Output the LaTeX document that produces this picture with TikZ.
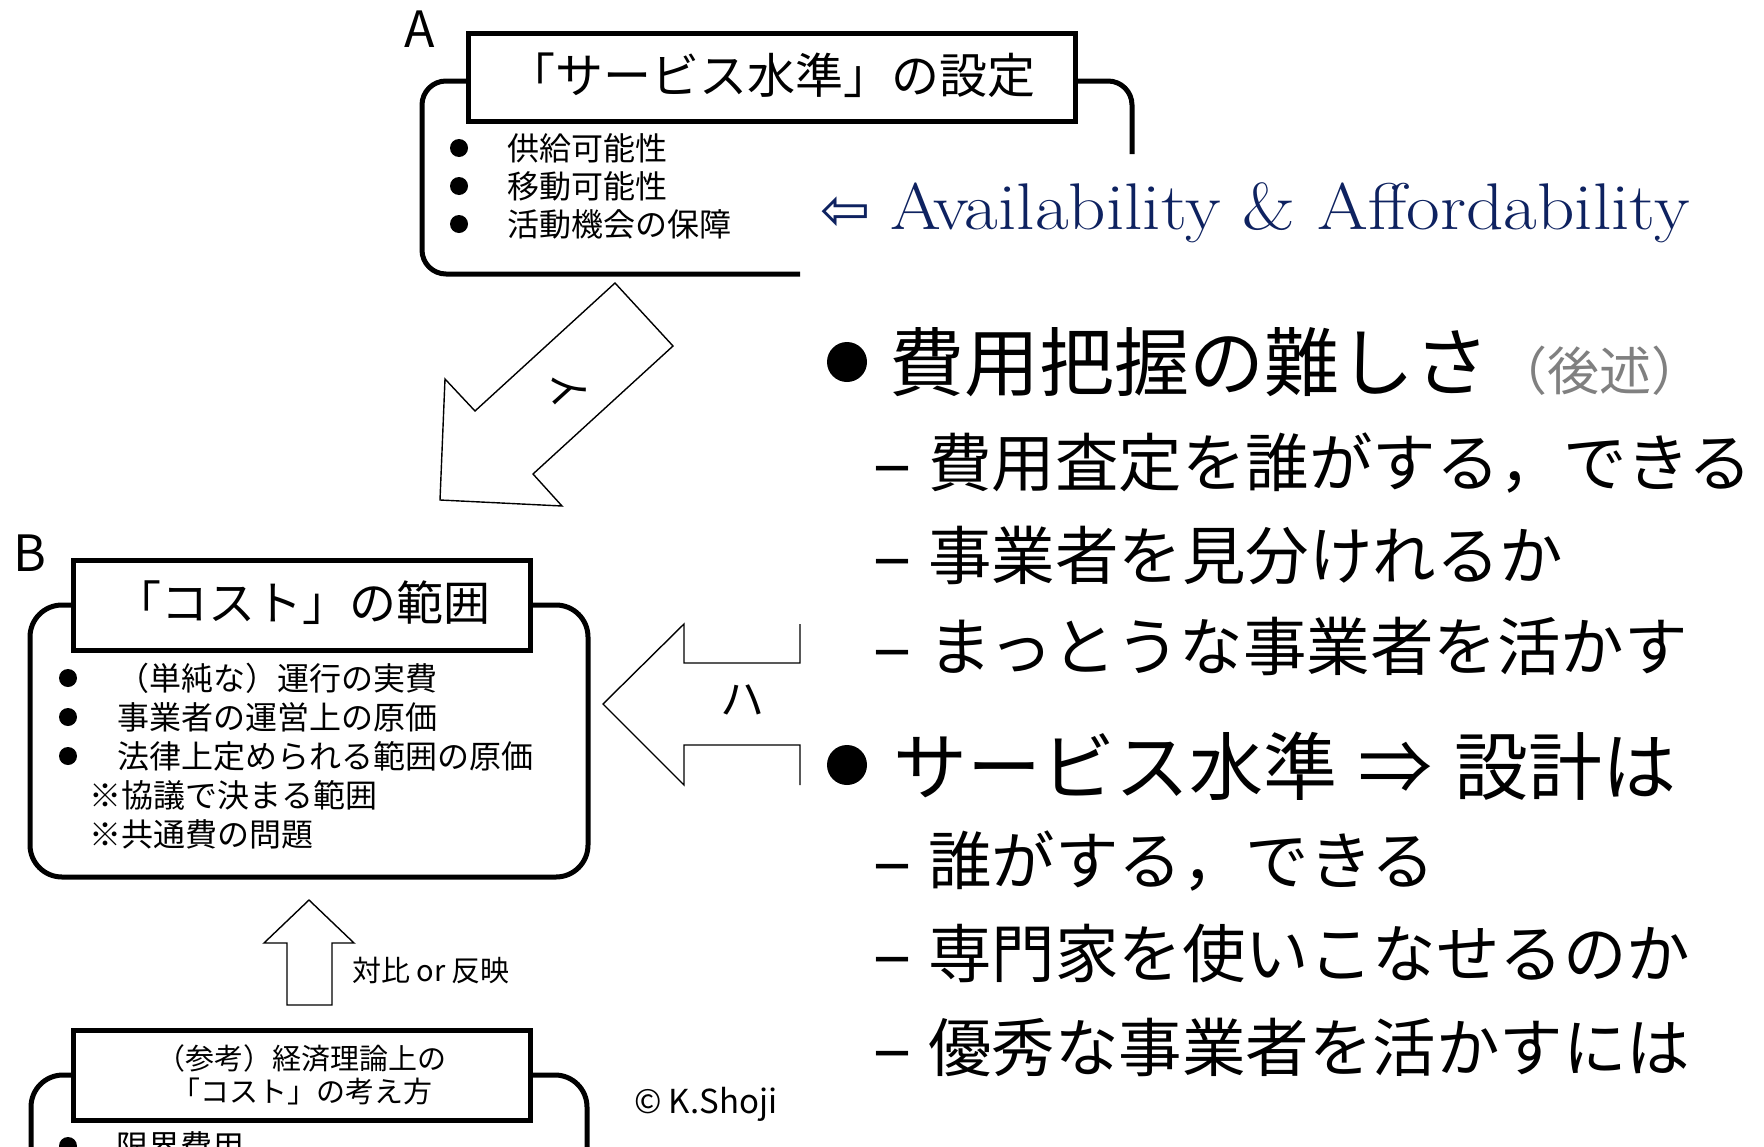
\documentclass[tikz,border=0pt]{standalone}
\usepackage{fontspec}
\newfontfamily\jp{Noto Sans CJK JP}
\newfontfamily\dv{DejaVu Sans}
\newcommand\fsz[1]{\fontsize{#1pt}{#1pt}\selectfont}
\newcommand\rdash{\makebox[54pt][l]{\raisebox{8pt}{\dv\bfseries\fsz{36}—}}}
\definecolor{navy}{RGB}{14,34,96}
\definecolor{midgray}{RGB}{128,128,128}
\begin{document}
\begin{tikzpicture}[x=1pt,y=-1pt,
  every node/.style={inner sep=0pt,outer sep=0pt},
  titlebox/.style={draw, line width=5pt, fill=white, rectangle},
  bracket/.style={line width=5pt, rounded corners=24pt},
  blockarrow/.style={draw=black, line width=1.4pt, fill=white, line join=miter},
  dot/.style={circle, fill=black, minimum size=18pt},
  bigdot/.style={circle, fill=black, minimum size=40pt},
  jpl/.style={font=\jp, anchor=base west},
  jpc/.style={font=\jp, anchor=base}]
\fill[white] (0,0) rectangle (1764,1146);
\useasboundingbox (0,0) rectangle (1764,1146);
\clip (0,0) rectangle (1764,1146);

% ---------- Box A ----------
\draw[bracket] (468,81) -- (422,81) -- (422,274) -- (800,274);
\draw[bracket] (1075,81) -- (1132,81) -- (1132,154);
\node[titlebox, minimum width=607pt, minimum height=88pt] (Abox) at (771.5,77.5) {};
\node[jpc, font=\jp\fsz{48}] (Atitle) at (771.5,93) {「サービス水準」の設定};
\node[jpl, font=\jp\fsz{50}] (labA) at (404,47) {A};
\node[dot] (a1) at (459,148) {};
\node[dot] (a2) at (459,186) {};
\node[dot] (a3) at (459,224) {};
\node[jpl, font=\jp\fsz{32}] (ta1) at (507,160) {供給可能性};
\node[jpl, font=\jp\fsz{32}] (ta2) at (507,198) {移動可能性};
\node[jpl, font=\jp\fsz{32}] (ta3) at (507,236) {活動機会の保障};

\node[jpl, font=\dv\fsz{60}, text=navy] (larr) at (820,230) {⇦};
\node[anchor=base west, font=\fsz{66}, text=navy] (avail) at (890,229) {\scalebox{1.11}[1]{Availability \& Affordability}};

% ---------- arrow i ----------
\draw[blockarrow] (615,283) -- (673,346) -- (533,474) -- (562,506) -- (440,500) -- (445,379) -- (475,411) -- cycle;
\node[font=\jp\fsz{42}, rotate=-47.7] (iLabel) at (565,390) {イ};

% ---------- Box B ----------
\draw[bracket, rounded corners=32pt] (73,605) -- (30,605) -- (30,877) -- (588,877) -- (588,605) -- (530,605);
\node[titlebox, minimum width=457pt, minimum height=90pt] (Bbox) at (301.5,605) {};
\node[jpc, font=\jp\fsz{47}] (Btitle) at (302,620) {「コスト」の範囲};
\node[jpl, font=\jp\fsz{50}] (labB) at (13,571) {B};
\node[dot] (b1) at (68,678) {};
\node[dot] (b2) at (68,717) {};
\node[dot] (b3) at (68,756) {};
\node[jpl, font=\jp\fsz{32}] (tb1) at (117,690) {（単純な）運行の実費};
\node[jpl, font=\jp\fsz{32}] (tb2) at (117,729) {事業者の運営上の原価};
\node[jpl, font=\jp\fsz{32}] (tb3) at (117,768) {法律上定められる範囲の原価};
\node[jpl, font=\jp\fsz{32}] (tb4) at (89,807) {※協議で決まる範囲};
\node[jpl, font=\jp\fsz{32}] (tb5) at (89,846) {※共通費の問題};

% ---------- arrow ha ----------
\draw[blockarrow, fill=none] (800,624) -- (800,663) -- (684,663) -- (684,624) -- (603,704) -- (684,785) -- (684,745) -- (800,745) -- (800,785);
\node[font=\jp\fsz{44}] (haLabel) at (742,700) {ハ};

% ---------- up arrow ----------
\draw[blockarrow] (309,900) -- (354,943) -- (332,943) -- (332,1005) -- (287,1005) -- (287,943) -- (264,943) -- cycle;
\node[jpl, font=\jp\fsz{29}] (upLabel) at (352,981) {対比 or 反映};

% ---------- Box C ----------
\draw[bracket, rounded corners=32pt] (73,1075) -- (31,1075) -- (31,1200);
\draw[bracket, rounded corners=32pt] (530,1075) -- (587,1075) -- (587,1200);
\node[titlebox, minimum width=457pt, minimum height=90pt] (Cbox) at (301.5,1075) {};
\node[jpc, font=\jp\fsz{29}] (Ctitle1) at (301.5,1069) {（参考）経済理論上の};
\node[jpc, font=\jp\fsz{29}] (Ctitle2) at (301.5,1102) {「コスト」の考え方};
\node[dot] (c1) at (68,1146) {};
\node[jpl, font=\jp\fsz{32}] (tc1) at (116,1158) {限界費用};

\node[jpl, font=\jp\fsz{33}] (copy) at (634,1113) {© K.Shoji};

% ---------- right text ----------
\node[bigdot] (r1dot) at (847,362) {};
\node[jpl] (r1) at (889,390) {\fsz{75}費用把握の難しさ\hspace{6pt}{\fsz{52}\color{midgray}（後述）}};
\node[jpl, font=\jp\fsz{63.5}] (s1) at (874,486) {\rdash 費用査定を誰がする，できる};
\node[jpl, font=\jp\fsz{63.5}] (s2) at (874,579) {\rdash 事業者を見分けれるか};
\node[jpl, font=\jp\fsz{63.5}] (s3) at (874,670) {\rdash まっとうな事業者を活かす};

\node[bigdot] (r2dot) at (847,765) {};
\node[jpl, font=\jp\fsz{74}] (r2) at (893,794) {サービス水準\hspace{22pt}⇒\hspace{22pt}設計は};
\node[jpl, font=\jp\fsz{63.5}] (s4) at (874,884) {\rdash 誰がする，できる};
\node[jpl, font=\jp\fsz{63.5}] (s5) at (874,977) {\rdash 専門家を使いこなせるのか};
\node[jpl, font=\jp\fsz{63.5}] (s6) at (874,1071) {\rdash 優秀な事業者を活かすには};
\end{tikzpicture}
\end{document}
